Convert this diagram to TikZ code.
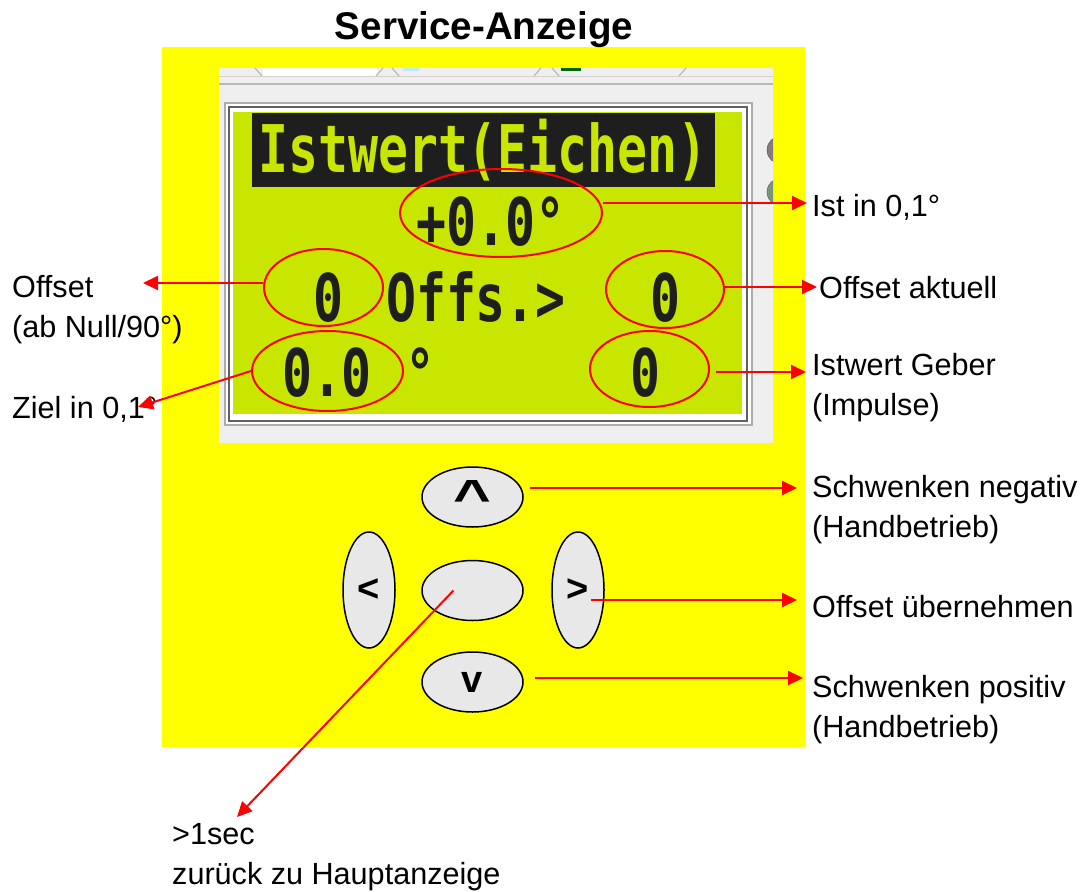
\documentclass[tikz,border=0pt]{standalone}
\usepackage{fontspec}
\setmainfont{Liberation Sans}
\newfontfamily\lcdfont{DejaVu Sans Mono}
\usepackage{graphicx}
\usetikzlibrary{arrows.meta, shapes.geometric, calc}

\definecolor{gelb}{RGB}{255,255,0}
\definecolor{lcdgruen}{RGB}{200,230,0}
\definecolor{lcdschwarz}{RGB}{30,30,30}
\definecolor{panelgrau}{RGB}{239,239,239}
\definecolor{tastegrau}{RGB}{232,232,232}

\newcommand{\lcdtext}[1]{\scalebox{1}[1.32]{#1}}

\tikzset{
  lcd/.style={inner sep=0, anchor=base, text=lcdschwarz, font=\lcdfont\bfseries\fontsize{49.8}{50}\selectfont},
  ring/.style={ellipse, draw=red, line width=2pt, inner sep=0},
  taste/.style={ellipse, draw=black, line width=1.5pt, fill=tastegrau, inner sep=0, font=\bfseries\fontsize{38}{40}\selectfont},
  pfeil/.style={red, line width=2pt, -{Triangle[length=15pt,width=14pt]}},
  lbl/.style={inner sep=0, anchor=base west, align=left, font=\fontsize{30.6}{39.5}\selectfont},
}

\begin{document}
\begin{tikzpicture}[x=1pt,y=-1pt]
        \useasboundingbox[fill=white] (0,0) rectangle (1089,891);
        \fill[gelb] (162,47) rectangle (805,747);
        \fill[panelgrau] (219,68) rectangle (773,443);

        \fill[white] (263,68) rectangle (377,76);
        \draw[gray!60, line width=1pt] (255,68) -- (262,76) (383,68) -- (376,76) (392,68) -- (399,76)
            (541,68) -- (534,76) (552,68) -- (559,76) (686,68) -- (679,76);
        \fill[cyan!25] (403,68) rectangle (419,71);
        \fill[green!40!black] (561,68) rectangle (581,71);
        \draw[gray!35, line width=1pt] (219,76) -- (773,76);
        \draw[gray!55, line width=1.5pt] (219,84) -- (773,84);

        \begin{scope}
            \clip (219,68) rectangle (773,443);
            \draw[fill={rgb,255:red,140;green,122;blue,122}, draw=gray!60!black] (781,150) circle (14pt);
            \draw[fill={rgb,255:red,122;green,150;blue,122}, draw=gray!60!black] (781,192) circle (14pt);
        \end{scope}

        \filldraw[fill=white, draw=gray!65, line width=1.5pt] (225,103) rectangle (752,425);
        \draw[gray!75!black, line width=1.5pt] (229,107) rectangle (747,421);
        \fill[lcdgruen] (233,112) rectangle (742,414);
        \fill[lcdschwarz] (252,113) rectangle (715,187);

        \node[lcd, text=lcdgruen] (kopf) at (483,172) {\lcdtext{Istwert(Eichen)}};
        \node[lcd] (istwert) at (491,245) {\lcdtext{+0.0°}};
        \node[lcd] (null1) at (328,321) {\lcdtext{0}};
        \node[lcd] (offs) at (476,321) {\lcdtext{Offs.>}};
        \node[lcd] (null2) at (665,321) {\lcdtext{0}};
        \node[lcd] (zielwert) at (327,396) {\lcdtext{0.0}};
        \node[lcd] (grad) at (420,396) {\lcdtext{°}};
        \node[lcd] (null3) at (645,396) {\lcdtext{0}};

        \node[ring, minimum width=202, minimum height=88] (ist) at (501,213) {};
        \node[ring, minimum width=119, minimum height=77] (offl) at (323.5,287.5) {};
        \node[ring, minimum width=118, minimum height=77] (offr) at (665,289.5) {};
        \node[ring, minimum width=151, minimum height=80] (ziel) at (327.5,371) {};
        \node[ring, minimum width=119, minimum height=76] (geber) at (649.5,369) {};

        \node[taste, minimum width=101, minimum height=60] (hoch) at (472.5,497) {\scalebox{1.7}[1.3]{\textasciicircum}};
        \node[taste, minimum width=101, minimum height=60] (mitte) at (472.5,590.5) {};
        \node[taste, minimum width=101, minimum height=60] (runter) at (472.5,682) {v};
        \node[taste, minimum width=52, minimum height=116] (links) at (369,590) {<};
        \node[taste, minimum width=52, minimum height=116] (rechts) at (578,590) {>};

        \node[font=\bfseries\fontsize{38.6}{40}\selectfont, anchor=base, inner sep=0] (titel) at (484,40) {Service-Anzeige};
        \node[lbl] (lIst) at (812,216) {Ist in 0,1°};
        \node[lbl] (lOffA) at (819,298) {Offset aktuell};
        \node[lbl] (lGeber) at (812,415) {Istwert Geber\\(Impulse)};
        \node[lbl] (lOffs) at (12,337) {Offset\\(ab Null/90°)};
        \node[lbl] (lZiel) at (12,418) {Ziel in 0,1°};
        \node[lbl] (lNeg) at (812,537) {Schwenken negativ\\(Handbetrieb)};
        \node[lbl] (lUeb) at (812,617) {Offset übernehmen};
        \node[lbl] (lPos) at (812,737) {Schwenken positiv\\(Handbetrieb)};
        \node[lbl] (lSec) at (172,884) {>1sec\\zurück zu Hauptanzeige};

        \coordinate (tIst) at (807,203);
        \coordinate (tOffA) at (817,287);
        \coordinate (tGeber) at (806,372);
        \coordinate (tOffs) at (143,283);
        \coordinate (tZiel) at (138,407);
        \coordinate (tNeg) at (797,488);
        \coordinate (tUeb) at (797,600);
        \coordinate (tPos) at (803,678);
        \coordinate (tSec) at (237,817);

        \draw[pfeil] (ist.east |- tIst) -- (tIst);
        \draw[pfeil] (offr.east |- tOffA) -- (tOffA);
        \draw[pfeil, shorten <=6pt] (geber.east |- tGeber) -- (tGeber);
        \draw[pfeil] (offl.west |- tOffs) -- (tOffs);
        \draw[pfeil] (ziel.west) -- (tZiel);
        \draw[pfeil, shorten <=6pt] (hoch.east |- tNeg) -- (tNeg);
        \draw[pfeil, shorten <=13pt] (rechts.center |- tUeb) -- (tUeb);
        \draw[pfeil, shorten <=11pt] (runter.east |- tPos) -- (tPos);
        \draw[pfeil] ($(mitte.center)+(-19,0)$) -- (tSec);
\end{tikzpicture}
\end{document}
